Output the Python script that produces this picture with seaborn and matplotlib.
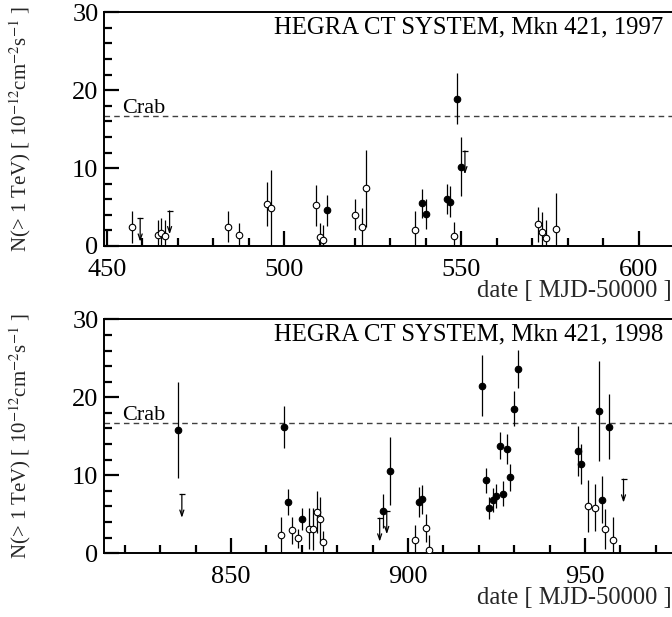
import numpy as np
import pandas as pd
import matplotlib
matplotlib.use("Agg")
import matplotlib.pyplot as plt
import seaborn as sns

# ---- 1997 light curve: MJD-50000, flux N(>1 TeV) [1e-12 cm^-2 s^-1], 1-sigma error, filled marker
mjd_1997 = [457.2, 464.3, 465.4, 466.5, 484.2, 487.3, 495.3, 496.2, 509.0, 510.1,
            511.1, 512.1, 520.0, 522.0, 523.2, 536.9, 538.9, 540.0, 545.8, 546.9,
            547.9, 548.9, 550.0, 571.7, 572.8, 573.8, 576.8]
flux_1997 = [2.45, 1.45, 1.7, 1.3, 2.45, 1.35, 5.4, 4.9, 5.2, 1.1,
             0.75, 4.6, 4.0, 2.4, 7.4, 2.05, 5.5, 4.1, 6.0, 5.7,
             1.25, 18.9, 10.2, 2.8, 1.8, 1.05, 2.2]
err_1997 = [2.05, 1.95, 1.85, 2.0, 2.0, 1.6, 2.85, 4.9, 2.6, 1.9,
            1.9, 2.0, 2.0, 2.45, 4.95, 2.5, 1.85, 1.9, 1.95, 2.0,
            1.8, 3.3, 3.75, 2.25, 2.55, 2.35, 4.6]
filled_1997 = [0, 0, 0, 0, 0, 0, 0, 0, 0, 0,
               0, 1, 0, 0, 0, 0, 1, 1, 1, 1,
               0, 1, 1, 0, 0, 0, 0]
ul_mjd_1997 = [459.4, 467.7, 551.0]
ul_flux_1997 = [3.55, 4.5, 12.2]

# ---- 1998 light curve
mjd_1998 = [835.1, 864.1, 865.1, 866.2, 867.1, 869.0, 870.0, 872.0, 873.2, 874.2,
            875.1, 876.1, 893.0, 895.0, 902.0, 903.0, 903.9, 905.0, 906.0, 920.8,
            922.0, 923.0, 924.0, 924.9, 926.0, 926.9, 928.0, 928.9, 929.9, 931.0,
            947.9, 948.9, 950.9, 952.9, 953.9, 954.9, 955.8, 956.9, 957.9]
flux_1998 = [15.8, 2.3, 16.2, 6.6, 2.95, 1.9, 4.35, 3.15, 3.1, 5.25,
             4.35, 1.5, 5.45, 10.55, 1.75, 6.55, 6.95, 3.3, 0.45, 21.5,
             9.35, 5.85, 6.8, 7.35, 13.8, 7.65, 13.35, 9.75, 18.55, 23.6,
             13.1, 11.45, 6.05, 5.85, 18.2, 6.85, 3.1, 16.25, 1.75]
err_1998 = [6.2, 2.3, 2.7, 1.65, 1.7, 1.2, 1.4, 2.65, 2.65, 2.7,
            2.9, 1.4, 2.15, 4.4, 1.9, 1.9, 1.85, 1.8, 1.9, 3.95,
            1.6, 1.4, 1.55, 1.55, 1.7, 1.65, 1.95, 1.75, 2.2, 2.45,
            3.25, 2.55, 3.35, 3.0, 6.4, 3.0, 2.6, 4.2, 2.95]
filled_1998 = [1, 0, 1, 1, 0, 0, 1, 0, 0, 0,
               0, 0, 1, 1, 0, 1, 1, 0, 0, 1,
               1, 1, 1, 1, 1, 1, 1, 1, 1, 1,
               1, 1, 0, 0, 1, 1, 0, 1, 0]
ul_mjd_1998 = [836.1, 892.0, 894.0, 960.9]
ul_flux_1998 = [7.55, 4.5, 5.45, 9.5]

CRAB_FLUX = 16.7
UL_ARROW = 3.0

titles = ["HEGRA CT SYSTEM, Mkn 421, 1997", "HEGRA CT SYSTEM, Mkn 421, 1998"]
xlims = [(449.2, 609.4), (814.1, 974.6)]
crab_x = [454.2, 819.1]
ylabel = r"N(> 1 TeV) [ 10$^{-12}$cm$^{-2}$s$^{-1}$ ]"
xlabel = "date [ MJD-50000 ]"

sns.set_theme(style="ticks")
plt.rcParams["font.family"] = ["Liberation Serif", "DejaVu Serif"]
plt.rcParams["mathtext.fontset"] = "stix"

fig = plt.figure(figsize=(6.72, 6.17), dpi=100)
W, H = 672.0, 617.0
left = 104 / W
width = (672 - 104) / W
ax_top = fig.add_axes([left, (H - 246) / H, width, 233.7 / H])
ax_bot = fig.add_axes([left, (H - 553.3) / H, width, 234.0 / H])

panels = [
    (ax_top, mjd_1997, flux_1997, err_1997, filled_1997, ul_mjd_1997, ul_flux_1997),
    (ax_bot, mjd_1998, flux_1998, err_1998, filled_1998, ul_mjd_1998, ul_flux_1998),
]

for i, (ax, mjd, flux, err, filled, ulx, uly) in enumerate(panels):
    df = pd.DataFrame({"mjd": mjd, "flux": flux, "err": err,
                       "filled": np.array(filled, dtype=bool)})

    # error bars
    ax.errorbar(df["mjd"], df["flux"], yerr=df["err"], fmt="none",
                ecolor="black", elinewidth=0.9, capsize=0, zorder=2)

    # measurements: filled and open circles
    sns.scatterplot(data=df[df["filled"]], x="mjd", y="flux", ax=ax,
                    color="black", edgecolor="black", s=22, linewidth=0.8,
                    marker="o", zorder=3, legend=False)
    sns.scatterplot(data=df[~df["filled"]], x="mjd", y="flux", ax=ax,
                    facecolor="white", edgecolor="black", s=22, linewidth=0.8,
                    marker="o", zorder=3, legend=False)

    # upper limits: cap at the limit, arrow pointing down
    for ux, uy in zip(ulx, uly):
        ax.annotate("", xy=(ux, uy - UL_ARROW), xytext=(ux, uy),
                    arrowprops=dict(arrowstyle="->,head_length=0.35,head_width=0.12",
                                    color="black", lw=0.9, shrinkA=0, shrinkB=0),
                    zorder=2)
        ax.plot([ux], [uy], marker="_", color="black", markersize=4,
                markeredgewidth=0.9, zorder=2)

    # Crab reference level
    ax.axhline(CRAB_FLUX, color="0.25", lw=1.0, ls=(0, (4, 3)), zorder=1)
    ax.text(crab_x[i], CRAB_FLUX + 0.35, "Crab", fontsize=16, ha="left",
            va="baseline", color="black")

    ax.text(0.984, 0.935, titles[i], transform=ax.transAxes, fontsize=17.8,
            ha="right", va="center", color="black")

    ax.set_xlim(*xlims[i])
    ax.set_ylim(0, 30)
    ax.set_yticks([0, 10, 20, 30])
    ax.set_yticks(np.arange(0, 31, 2), minor=True)
    x0 = int(np.ceil(xlims[i][0] / 50.0) * 50)
    ax.set_xticks(np.arange(x0, xlims[i][1], 50))
    ax.set_xticks(np.arange(np.ceil(xlims[i][0] / 10.0) * 10, xlims[i][1], 10), minor=True)

    ax.tick_params(axis="both", which="major", direction="in", length=11,
                   width=1.6, labelsize=19, colors="black")
    ax.tick_params(axis="both", which="minor", direction="in", length=5.5,
                   width=1.6, colors="black")
    ax.tick_params(axis="x", which="major", pad=9)
    ax.tick_params(axis="y", which="major", pad=4)

    for side in ["left", "bottom", "top"]:
        ax.spines[side].set_linewidth(1.4)
        ax.spines[side].set_color("black")
    ax.spines["right"].set_visible(False)

    ax.set_ylabel(ylabel, fontsize=15)
    ax.yaxis.set_label_coords(-0.125, 0.5)
    ax.set_xlabel(xlabel, fontsize=17.7, loc="right")
    ax.xaxis.set_label_coords(1.0, -0.145)

fig.savefig("out.png", dpi=100)
